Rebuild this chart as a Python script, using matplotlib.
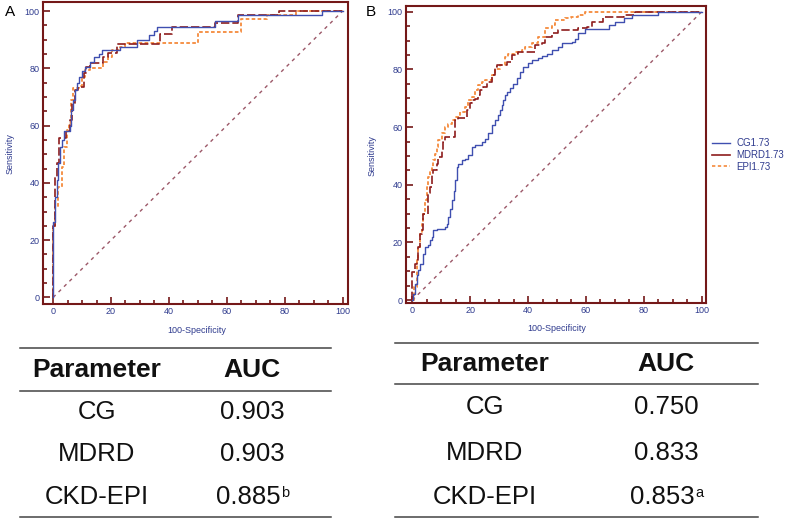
import matplotlib
matplotlib.use("Agg")
import matplotlib.pyplot as plt
from matplotlib.lines import Line2D
from matplotlib.ticker import MultipleLocator

plt.rcParams["font.family"] = ["Liberation Sans", "DejaVu Sans"]

# panel A: 100-specificity (x) / sensitivity (y), step corners
a_cg_x = [0, 0, 0.7, 1.3, 1.8, 2.4, 3.0, 3.8, 5.7, 6.1, 6.7, 7.4, 8.2, 9.0, 9.9, 11.1, 12.6,
          14.0, 15.7, 16.8, 23.2, 29.0, 33.0, 34.7, 35.9, 56.0, 64.0, 93.0, 100]
a_cg_y = [0, 26.5, 35, 41, 47, 52.7, 55, 58, 60, 65.5, 69, 72.4, 75, 77, 79, 80.6, 82.3,
          84, 85.2, 86.4, 87.5, 90, 91.5, 93, 94.5, 96.5, 98.6, 100, 100]
a_mdrd_x = [0, 0, 0.7, 1.3, 2.1, 4.5, 5.8, 6.5, 7.4, 8.6, 10.5, 11.5, 12.6, 17.4, 19.0, 22.0,
            37.0, 41.0, 56.0, 64.0, 78.0, 100]
a_mdrd_y = [0, 24.8, 42, 47, 55.6, 58, 62, 68, 72.5, 73.4, 78.5, 80.5, 82, 84, 85.5, 88.7,
            91.9, 94.5, 95.7, 98.6, 100, 100]
a_epi_x = [0, 0, 0.7, 1.8, 3.0, 3.8, 4.7, 5.5, 6.1, 7.0, 8.8, 9.9, 11.0, 12.8, 17.4, 19.0,
           20.3, 23.2, 25.0, 50.0, 65.0, 74.0, 84.0, 100]
a_epi_y = [0, 25, 31.7, 38.7, 45.7, 52.7, 58.5, 60.8, 69, 73, 74, 77, 79.4, 80, 82.3, 84,
           86.4, 87.5, 89, 92.7, 97.4, 98.6, 100, 100]

# panel B
b_cg_x = [0, 0.35, 0.9, 1.5, 2.1, 2.6, 3.8, 4.4, 5.5, 6.1, 6.7, 7.3, 8.4, 11.3, 11.9, 12.4,
          13.0, 13.6, 14.5, 14.7, 15.3, 15.9, 17.1, 18.2, 19.4, 20.5, 21.7, 24.0, 25.1, 26.3,
          27.4, 28.6, 29.7, 30.3, 30.9, 31.5, 32.0, 32.6, 33.8, 34.9, 36.1, 37.2, 38.4, 40.1,
          41.2, 43.5, 44.7, 46.4, 48.2, 50.5, 51.6, 55.1, 56.2, 57.3, 59.7, 68.0, 70.0, 73.0,
          76.0, 85.0, 100]
b_cg_y = [0, 2.2, 5.7, 8.6, 10.3, 12.6, 16.1, 18.4, 19.0, 20.7, 21.9, 24.2, 24.8, 25.3, 26.5,
          28.8, 31.7, 34.6, 38.0, 41.6, 46.2, 47.3, 48.5, 49.0, 50.2, 53.1, 53.7, 54.9, 56.0,
          57.8, 60.6, 62.4, 64.1, 65.9, 67.6, 69.3, 71.1, 72.2, 73.4, 75.1, 76.9, 79.2, 80.9,
          82.1, 83.2, 83.8, 84.6, 85.5, 86.7, 87.8, 89.0, 89.6, 90.7, 92.5, 93.9, 95.4, 96.5,
          97.9, 98.9, 100, 100]
b_mdrd_x = [0, 0, 0.9, 1.5, 1.8, 2.6, 3.2, 3.8, 5.3, 6.1, 6.7, 7.3, 8.4, 9.0, 10.1, 10.7,
            11.3, 14.7, 15.9, 18.8, 19.9, 20.5, 21.7, 22.8, 23.4, 24.5, 25.7, 27.4, 28.6, 29.1,
            32.6, 34.3, 35.5, 36.6, 42.4, 44.7, 45.9, 48.2, 50.5, 57.4, 60.3, 62.0, 66.0, 73.0,
            77.0, 100]
b_mdrd_y = [0, 9.7, 12.6, 13.8, 18.4, 23.0, 24.2, 30.0, 37.0, 39.2, 43.9, 45.0, 47.3, 49.7,
            52.0, 54.9, 56.6, 62.4, 63.0, 65.9, 68.2, 69.3, 69.9, 71.1, 72.8, 74.0, 75.7, 78.0,
            80.9, 81.5, 82.6, 85.0, 85.5, 86.1, 88.4, 89.0, 91.3, 92.5, 93.6, 94.3, 94.8, 96.5,
            98.2, 99.0, 100, 100]
b_epi_x = [0, 0.7, 1.5, 2.1, 2.6, 3.2, 3.8, 4.4, 5.0, 5.5, 6.1, 6.7, 7.3, 7.8, 8.4, 9.0, 10.1,
           11.3, 12.4, 13.6, 14.7, 16.5, 18.2, 19.4, 20.5, 21.7, 22.8, 24.0, 25.1, 27.4, 28.6,
           30.3, 32.0, 33.2, 35.5, 37.8, 38.9, 41.2, 43.5, 45.9, 48.2, 49.3, 52.8, 55.0, 57.4,
           59.7, 100]
b_epi_y = [0, 4.5, 13.8, 18.4, 23.0, 26.5, 30.0, 34.6, 39.2, 42.7, 45.0, 46.2, 48.5, 50.8,
           53.1, 55.4, 57.8, 60.1, 61.2, 62.4, 63.5, 65.3, 67.0, 69.3, 70.5, 72.8, 74.5, 75.7,
           76.3, 78.0, 80.3, 81.5, 84.4, 85.5, 86.1, 86.7, 87.8, 89.0, 91.3, 94.2, 95.4, 97.1,
           97.7, 98.3, 98.8, 100, 100]

legend_labels = ["CG1.73", "MDRD1.73", "EPI1.73"]
table_params = ["CG", "MDRD", "CKD-EPI"]
table_a_auc = ["0.903", "0.903", "0.885"]
table_a_note = ["", "", "b"]
table_b_auc = ["0.750", "0.833", "0.853"]
table_b_note = ["", "", "a"]

BLUE = "#3f4fb0"
RED = "#8e1c1c"
ORANGE = "#f58a3c"
DIAG = "#9c5868"
FRAME = "#741818"
LABEL = "#2f3b8e"

W, H = 791, 522


def box(left, top, right, bottom):
    return [left / W, 1 - bottom / H, (right - left) / W, (bottom - top) / H]


def draw_roc(ax, xlim, ylim, cg, mdrd, epi):
    ax.plot([0, 100], [0, 100], color=DIAG, lw=1.0, dashes=(2.5, 3.0))
    ax.plot(*epi, color=ORANGE, lw=1.3, dashes=(2.0, 1.3), drawstyle="steps-post")
    ax.plot(*mdrd, color=RED, lw=1.2, dashes=(5.0, 1.8), drawstyle="steps-post")
    ax.plot(*cg, color=BLUE, lw=1.0, drawstyle="steps-post")
    ax.set_xlim(*xlim)
    ax.set_ylim(*ylim)
    ax.xaxis.set_major_locator(MultipleLocator(20))
    ax.yaxis.set_major_locator(MultipleLocator(20))
    ax.xaxis.set_minor_locator(MultipleLocator(5))
    ax.yaxis.set_minor_locator(MultipleLocator(5))
    for s in ax.spines.values():
        s.set_color(FRAME)
        s.set_linewidth(1.5)
    ax.tick_params(which="both", direction="in", color=FRAME, width=1.2,
                   labelsize=6.5, labelcolor=LABEL, pad=2.5)
    ax.tick_params(which="major", length=5)
    ax.tick_params(which="minor", length=3)
    ax.set_xlabel("100-Specificity", fontsize=6.5, color=LABEL)
    ax.set_ylabel("Sensitivity", fontsize=6.5, color=LABEL)


def draw_table(ax, x0, x1, lines_y, col_x, rows_y, auc, notes):
    for y in lines_y:
        fig.add_artist(Line2D([x0 / W, x1 / W], [1 - y / H, 1 - y / H],
                              color="#444444", lw=1.1))
    fig.text(col_x[0] / W, 1 - rows_y[0] / H, "Parameter", fontsize=19,
             fontweight="bold", ha="center", va="center", color="#111111")
    fig.text(col_x[1] / W, 1 - rows_y[0] / H, "AUC", fontsize=19,
             fontweight="bold", ha="center", va="center", color="#111111")
    for name, val, note, y in zip(table_params, auc, notes, rows_y[1:]):
        fig.text(col_x[0] / W, 1 - y / H, name, fontsize=18.5,
                 ha="center", va="center", color="#111111")
        shift = 4 if note else 0
        t = fig.text((col_x[1] - shift) / W, 1 - y / H, val, fontsize=18.5,
                     ha="center", va="center", color="#111111")
        if note:
            ax.annotate(note, xy=(1, 0.97), xycoords=t, xytext=(0.5, 0),
                        textcoords="offset points", ha="left", va="top",
                        fontsize=10.5, color="#111111", annotation_clip=False)


fig = plt.figure(figsize=(W / 100, H / 100), dpi=100)

ax_a = fig.add_axes(box(43, 2, 348, 304))
draw_roc(ax_a, (-3.5, 101.9), (-2.3, 103.2),
         (a_cg_x, a_cg_y), (a_mdrd_x, a_mdrd_y), (a_epi_x, a_epi_y))
ax_a.xaxis.set_label_coords(0.505, -0.072)
ax_a.yaxis.set_label_coords(-0.092, 0.497)

ax_b = fig.add_axes(box(406, 6, 706, 303))
draw_roc(ax_b, (-2.2, 101.5), (-1.0, 102.0),
         (b_cg_x, b_cg_y), (b_mdrd_x, b_mdrd_y), (b_epi_x, b_epi_y))
ax_b.xaxis.set_label_coords(0.503, -0.071)
ax_b.yaxis.set_label_coords(-0.097, 0.498)

fig.text(10 / W, 1 - 12 / H, "A", fontsize=11, ha="center", va="center")
fig.text(371 / W, 1 - 12 / H, "B", fontsize=11, ha="center", va="center")

handles = [Line2D([], [], color=BLUE, lw=1.0),
           Line2D([], [], color=RED, lw=1.2),
           Line2D([], [], color=ORANGE, lw=1.2, dashes=(2.0, 1.5))]
fig.legend(handles, legend_labels, loc="upper left", bbox_to_anchor=(712 / W, 1 - 138 / H),
           frameon=False, fontsize=7, handlelength=1.9, handletextpad=0.6,
           labelspacing=0.2, borderpad=0, borderaxespad=0, labelcolor=LABEL)

draw_table(ax_a, 20, 331, [348, 391, 517], [97, 252], [370, 412, 454, 497],
           table_a_auc, table_a_note)
draw_table(ax_b, 395, 758, [343, 384, 517], [485, 666], [364, 407, 453, 497],
           table_b_auc, table_b_note)

fig.savefig("out.png", dpi=100)
